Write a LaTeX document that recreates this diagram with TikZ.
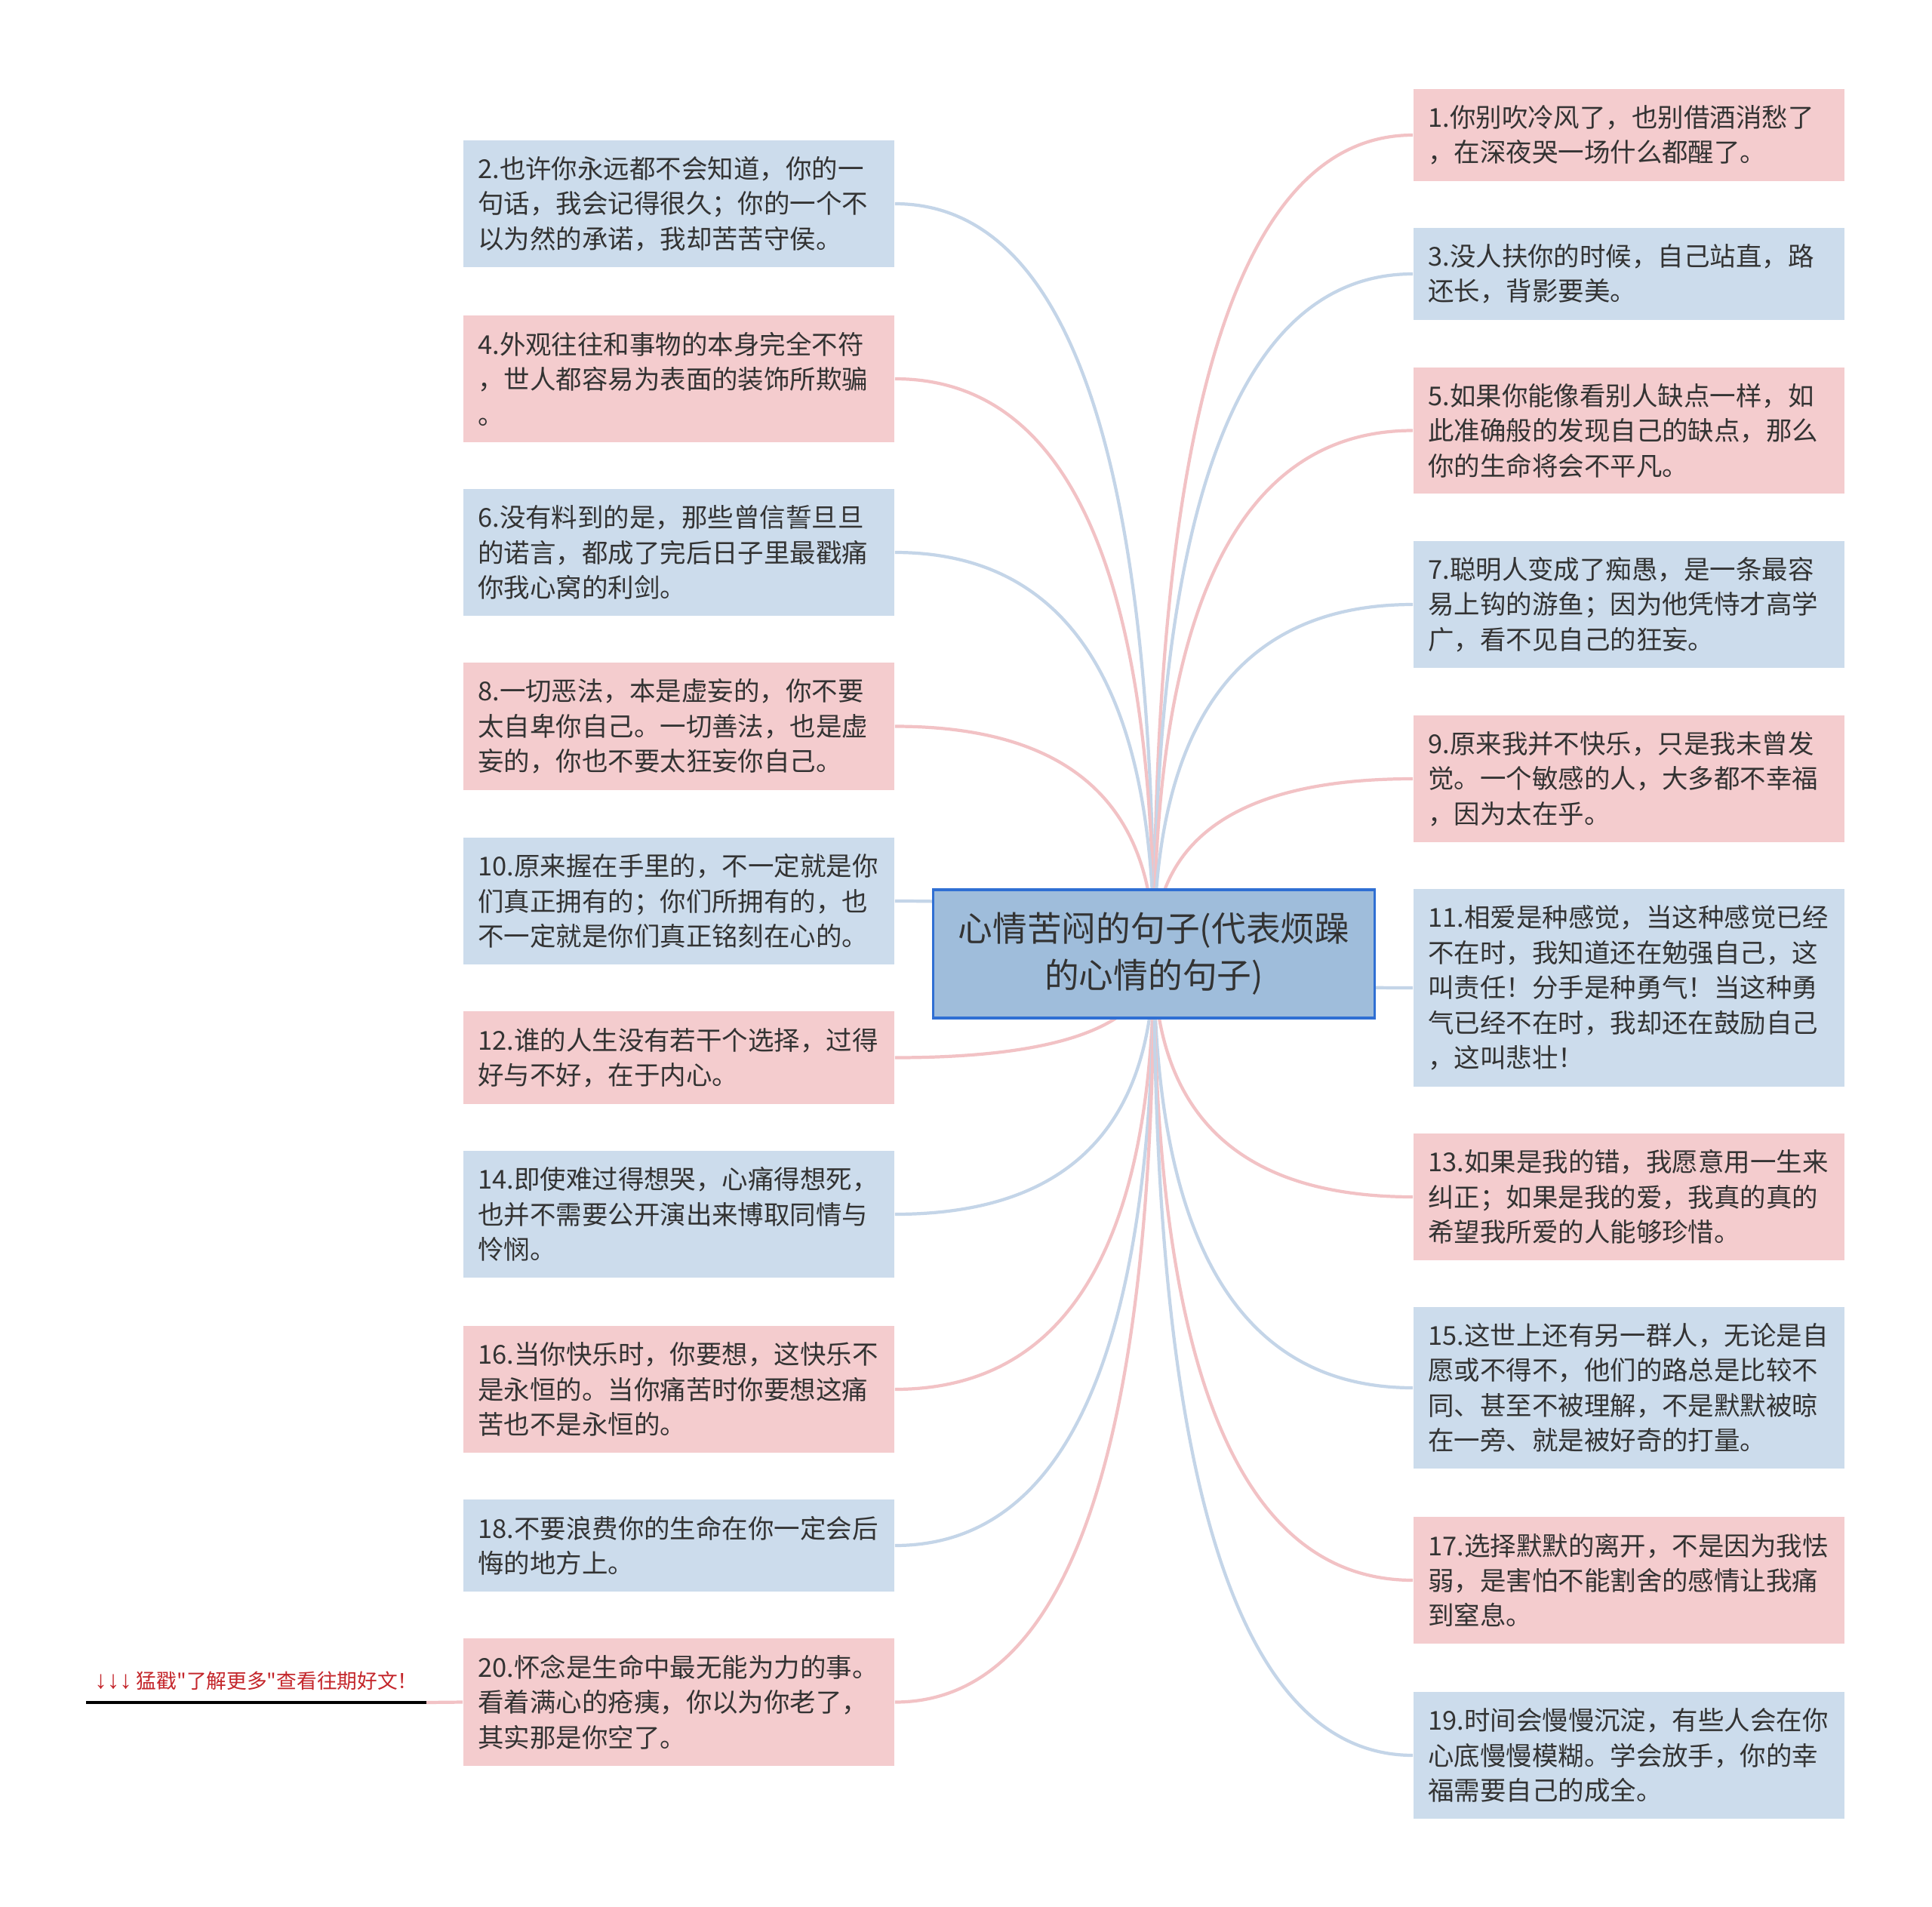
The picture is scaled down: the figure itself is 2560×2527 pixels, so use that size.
\documentclass[tikz,border=0pt]{standalone}
\usepackage{fontspec}
\setmainfont{Noto Sans CJK SC}
\newfontfamily\linkfont{Noto Sans CJK SC}[Ligatures=TeXOff]
\newfontfamily\arrowfont{Liberation Sans}
\usetikzlibrary{calc,backgrounds}
\definecolor{pinkfill}{HTML}{F4CCCE}
\definecolor{bluefill}{HTML}{CCDCEC}
\definecolor{pinkwire}{HTML}{F2C2C5}
\definecolor{bluewire}{HTML}{C4D5E8}
\definecolor{hubfill}{HTML}{9FBDDB}
\definecolor{hubline}{HTML}{2F6FD3}
\definecolor{inktext}{HTML}{333333}
\definecolor{linkred}{HTML}{C4262B}

\tikzset{
  leaf/.style={text width=5.32cm, align=left, inner xsep=0.195cm, inner ysep=0.215cm,
    text=inktext, font=\fontsize{9.8}{13.2}\selectfont},
  pinkleaf/.style={leaf, fill=pinkfill},
  blueleaf/.style={leaf, fill=bluefill},
  hub/.style={draw=hubline, line width=0.9pt, fill=hubfill, text=inktext, align=center,
    text width=5.64cm, inner xsep=0.1cm, minimum height=1.7cm,
    font=\fontsize{13}{17.6}\selectfont},
  linktext/.style={text=linkred, font=\linkfont\fontsize{7.6}{9}\selectfont,
    minimum width=4.49cm, inner xsep=0pt, inner ysep=0.16cm},
  pinkbranch/.style={pinkwire, line width=1.2pt},
  bluebranch/.style={bluewire, line width=1.2pt},
  branchcurve/.style={to path={
    .. controls ($(\tikztostart)!2/3!(\tikztostart |- \tikztotarget)$)
    and ($(\tikztotarget)!2/3!(\tikztostart |- \tikztotarget)$) .. (\tikztotarget)}}
}

\begin{document}
\begin{tikzpicture}[x=0.01cm,y=-0.01cm]
  \useasboundingbox (0,0) rectangle (2560,2527);

  \node[hub] (hub) at (1529,1264) {心情苦闷的句子(代表烦躁\\的心情的句子)};

  % left column
  \node[blueleaf] (l2) at (899.5,270) {2.也许你永远都不会知道，你的一\\句话，我会记得很久；你的一个不\\以为然的承诺，我却苦苦守侯。};
  \node[pinkleaf] (l4) at (899.5,502) {4.外观往往和事物的本身完全不符\\，世人都容易为表面的装饰所欺骗\\。};
  \node[blueleaf] (l6) at (899.5,732) {6.没有料到的是，那些曾信誓旦旦\\的诺言，都成了完后日子里最戳痛\\你我心窝的利剑。};
  \node[pinkleaf] (l8) at (899.5,962.5) {8.一切恶法，本是虚妄的，你不要\\太自卑你自己。一切善法，也是虚\\妄的，你也不要太狂妄你自己。};
  \node[blueleaf] (l10) at (899.5,1194) {10.原来握在手里的，不一定就是你\\们真正拥有的；你们所拥有的，也\\不一定就是你们真正铭刻在心的。};
  \node[pinkleaf] (l12) at (899.5,1401.5) {12.谁的人生没有若干个选择，过得\\好与不好，在于内心。};
  \node[blueleaf] (l14) at (899.5,1609) {14.即使难过得想哭，心痛得想死，\\也并不需要公开演出来博取同情与\\怜悯。};
  \node[pinkleaf] (l16) at (899.5,1841) {16.当你快乐时，你要想，这快乐不\\是永恒的。当你痛苦时你要想这痛\\苦也不是永恒的。};
  \node[blueleaf] (l18) at (899.5,2048) {18.不要浪费你的生命在你一定会后\\悔的地方上。};
  \node[pinkleaf] (l20) at (899.5,2255.5) {20.怀念是生命中最无能为力的事。\\看着满心的疮痍，你以为你老了，\\其实那是你空了。};

  % right column
  \node[pinkleaf] (r1) at (2158.5,179) {1.你别吹冷风了，也别借酒消愁了\\，在深夜哭一场什么都醒了。};
  \node[blueleaf] (r3) at (2158.5,363) {3.没人扶你的时候，自己站直，路\\还长，背影要美。};
  \node[pinkleaf] (r5) at (2158.5,570.5) {5.如果你能像看别人缺点一样，如\\此准确般的发现自己的缺点，那么\\你的生命将会不平凡。};
  \node[blueleaf] (r7) at (2158.5,801) {7.聪明人变成了痴愚，是一条最容\\易上钩的游鱼；因为他凭恃才高学\\广，看不见自己的狂妄。};
  \node[pinkleaf] (r9) at (2158.5,1032) {9.原来我并不快乐，只是我未曾发\\觉。一个敏感的人，大多都不幸福\\，因为太在乎。};
  \node[blueleaf] (r11) at (2158.5,1309) {11.相爱是种感觉，当这种感觉已经\\不在时，我知道还在勉强自己，这\\叫责任！分手是种勇气！当这种勇\\气已经不在时，我却还在鼓励自己\\，这叫悲壮！};
  \node[pinkleaf] (r13) at (2158.5,1586) {13.如果是我的错，我愿意用一生来\\纠正；如果是我的爱，我真的真的\\希望我所爱的人能够珍惜。};
  \node[blueleaf] (r15) at (2158.5,1839) {15.这世上还有另一群人，无论是自\\愿或不得不，他们的路总是比较不\\同、甚至不被理解，不是默默被晾\\在一旁、就是被好奇的打量。};
  \node[pinkleaf] (r17) at (2158.5,2094) {17.选择默默的离开，不是因为我怯\\弱，是害怕不能割舍的感情让我痛\\到窒息。};
  \node[blueleaf] (r19) at (2158.5,2326) {19.时间会慢慢沉淀，有些人会在你\\心底慢慢模糊。学会放手，你的幸\\福需要自己的成全。};

  \node[linktext, anchor=south] (more) at (339.5,2256) {{\arrowfont\fontsize{9.4}{9}\selectfont ↓↓↓} 猛戳"了解更多"查看往期好文！};
  \draw[line width=1.1pt] (more.south west) -- (more.south east);

  \begin{scope}[on background layer]
    \fill[white] (0,0) rectangle (2560,2527);
    \foreach \n/\s/\c in {l2/east/bluebranch, l4/east/pinkbranch, l6/east/bluebranch,
        l8/east/pinkbranch, l10/east/bluebranch, l12/east/pinkbranch, l14/east/bluebranch,
        l16/east/pinkbranch, l18/east/bluebranch, l20/east/pinkbranch,
        r1/west/pinkbranch, r3/west/bluebranch, r5/west/pinkbranch, r7/west/bluebranch,
        r9/west/pinkbranch, r11/west/bluebranch, r13/west/pinkbranch, r15/west/bluebranch,
        r17/west/pinkbranch, r19/west/bluebranch}
      \draw[\c] (hub.center) to[branchcurve] (\n.\s);
    \draw[pinkbranch] (l20.west) -- (more.south east);
  \end{scope}
\end{tikzpicture}
\end{document}
